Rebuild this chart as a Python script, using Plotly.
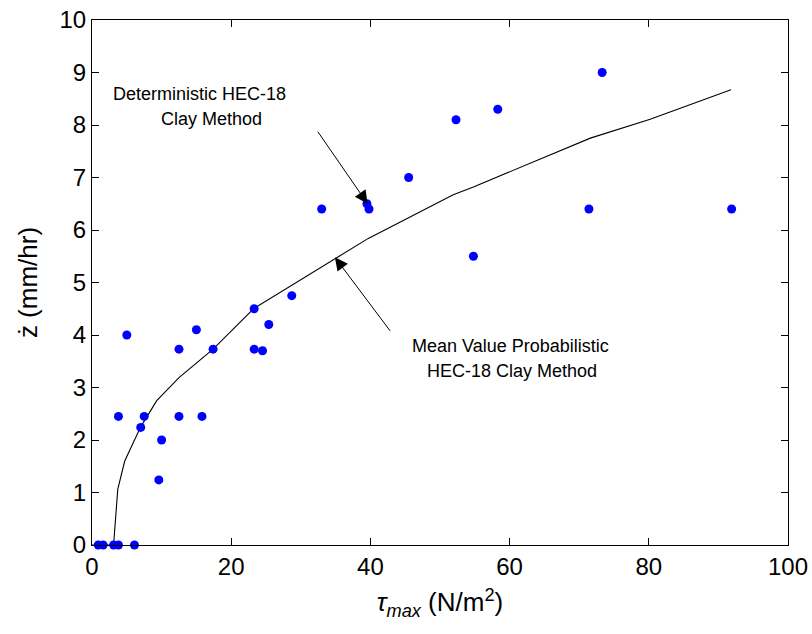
import plotly.graph_objects as go

# Measured scour rates versus maximum bed shear stress
tau_obs = [0.9, 1.6, 3.1, 3.8, 6.1, 3.8, 5.0, 7.0, 7.5, 9.6, 10.0, 12.5, 12.5,
           15.0, 15.8, 17.4, 23.3, 23.3, 24.5, 25.4, 28.7, 33.0, 39.5, 39.8,
           45.5, 52.3, 54.8, 58.3, 71.4, 73.3, 91.9]
z_obs = [0, 0, 0, 0, 0, 2.45, 4.0, 2.24, 2.45, 1.24, 2.0, 3.73, 2.45,
         4.1, 2.45, 3.73, 4.5, 3.73, 3.7, 4.2, 4.75, 6.4, 6.5, 6.4,
         7.0, 8.1, 5.5, 8.3, 6.4, 9.0, 6.4]

# HEC-18 clay method curve
tau_fit = [0, 3.1, 3.7, 4.7, 7.0, 9.3, 12.5, 17.4, 23.3, 29.9, 34.9, 39.7,
           51.9, 54.8, 71.6, 80.2, 91.8]
z_fit = [0, 0, 1.06, 1.6, 2.25, 2.75, 3.19, 3.73, 4.51, 5.05, 5.46, 5.84,
         6.67, 6.82, 7.75, 8.11, 8.67]

x_ticks = [0, 20, 40, 60, 80, 100]
y_ticks = list(range(0, 11))

FONT = "Liberation Sans, Arial, Helvetica, sans-serif"

fig = go.Figure()
fig.add_trace(go.Scatter(x=tau_fit, y=z_fit, mode="lines",
                         line=dict(color="black", width=1.1),
                         showlegend=False, hoverinfo="skip"))
fig.add_trace(go.Scatter(x=tau_obs, y=z_obs, mode="markers",
                         marker=dict(color="#0000ff", size=9),
                         showlegend=False, cliponaxis=False))

ann_font = dict(family=FONT, size=18, color="black")
annotations = [
    dict(x=15.4, y=8.6, text="Deterministic HEC-18", showarrow=False),
    dict(x=17.1, y=8.12, text="Clay Method", showarrow=False),
    dict(x=60.2, y=3.8, text="Mean Value Probabilistic", showarrow=False),
    dict(x=60.3, y=3.32, text="HEC-18 Clay Method", showarrow=False),
]
for a in annotations:
    a.update(xref="x", yref="y", font=ann_font)

arrows = [
    dict(x=39.6, y=6.5, ax=32.3, ay=7.9),
    dict(x=34.9, y=5.48, ax=43.0, ay=4.05),
]
for a in arrows:
    a.update(xref="x", yref="y", axref="x", ayref="y", text="",
             showarrow=True, arrowhead=2, arrowsize=2.6, arrowwidth=1,
             arrowcolor="black", standoff=0)

axis_common = dict(ticks="inside", ticklen=7, tickwidth=1, tickcolor="black",
                   showline=True, linecolor="black", linewidth=1,
                   mirror="ticks", showgrid=False, zeroline=False,
                   automargin=False, tickfont=dict(size=24, family=FONT))

fig.update_layout(
    width=812, height=634,
    margin=dict(l=92, r=24, t=20, b=89, autoexpand=False),
    paper_bgcolor="white", plot_bgcolor="white",
    font=dict(family=FONT, color="black"),
    annotations=annotations + arrows,
    xaxis=dict(range=[0, 100], tickvals=x_ticks,
               title=dict(text="<i>τ<sub>max</sub></i> (N/m<sup>2</sup>)",
                          font=dict(size=26, family=FONT), standoff=14),
               **axis_common),
    yaxis=dict(range=[0, 10], tickvals=y_ticks,
               title=dict(text="ż (mm/hr)", font=dict(size=26, family=FONT),
                          standoff=14),
               **axis_common),
)

fig.write_html("out.html")
